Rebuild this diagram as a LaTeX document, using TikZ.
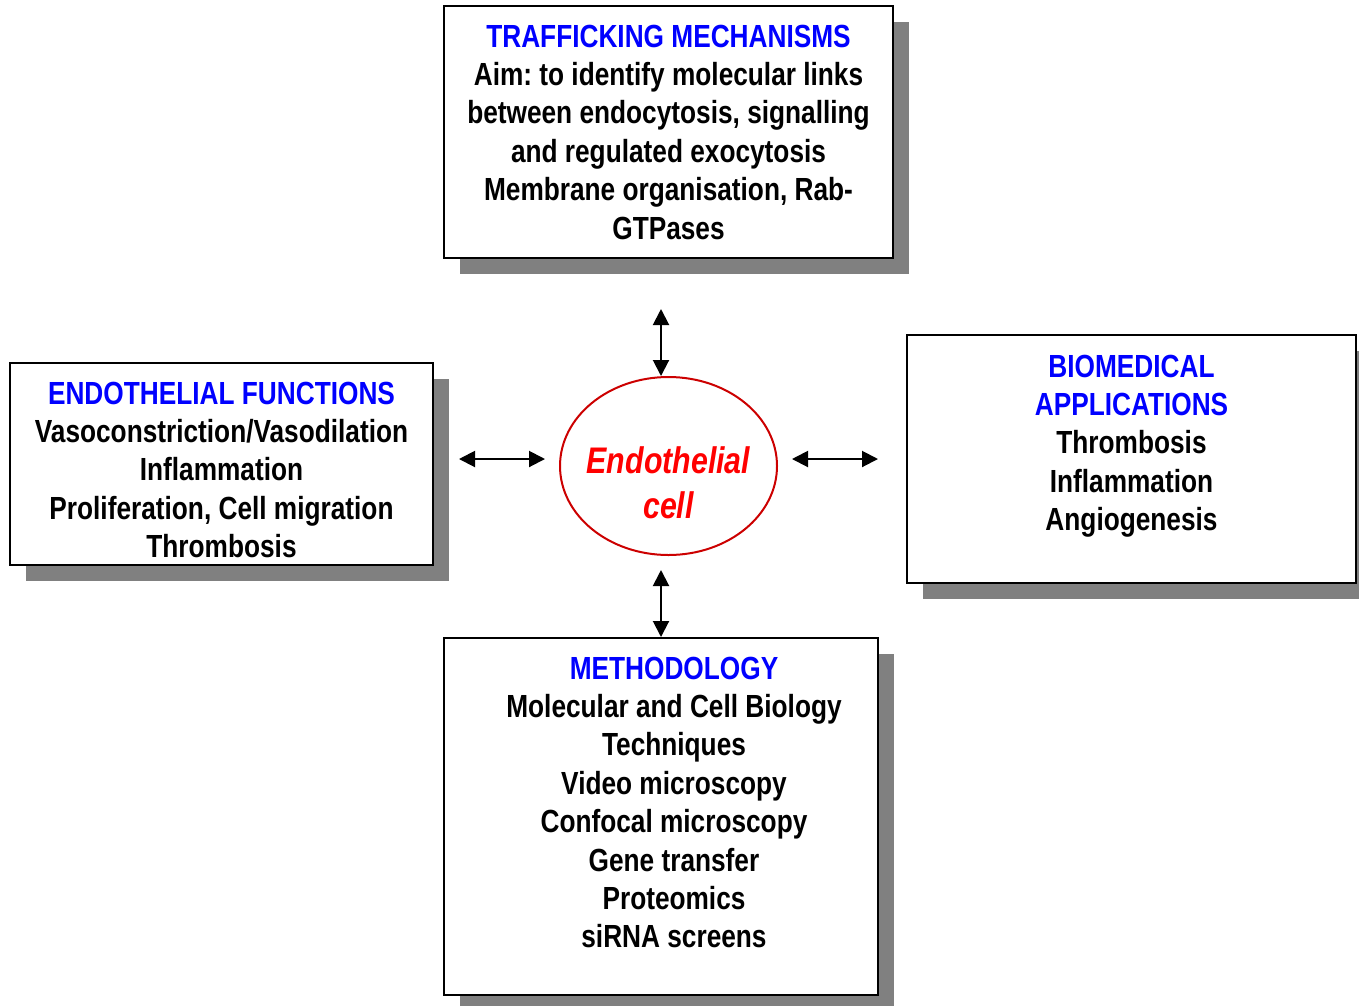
\documentclass[tikz,border=0pt]{standalone}
\usepackage{fontspec}
\setmainfont[FakeStretch=0.82]{Liberation Sans}
\usetikzlibrary{arrows.meta,shadows,positioning,shapes.geometric}
\definecolor{headblue}{RGB}{0,0,255}
\definecolor{cellred}{RGB}{255,0,0}
\definecolor{rimred}{RGB}{204,0,0}
\definecolor{shadegray}{RGB}{128,128,128}
\frenchspacing
\tikzset{
  panel/.style={draw=black, line width=2pt, fill=white, inner sep=0pt,
    drop shadow={shadow xshift=16pt, shadow yshift=-16pt, fill=shadegray, opacity=1}},
  blurb/.style={align=center, inner sep=0pt, font=\fontsize{32}{38.4}\selectfont\bfseries},
  link/.style={line width=2pt, {Triangle[length=16pt,width=16pt]}-{Triangle[length=16pt,width=16pt]}},
}
\begin{document}
\begin{tikzpicture}[x=1pt, y=-1pt]
    \useasboundingbox (0,0) rectangle (1359,1005);
    % the four panels
    \node[panel, minimum width=449pt, minimum height=252pt] (traffic) at (668.5,132) {};
    \node[panel, minimum width=423pt, minimum height=202pt] (functions) at (221.5,464) {};
    \node[panel, minimum width=449pt, minimum height=248pt] (biomed) at (1131.5,459) {};
    \node[panel, minimum width=434pt, minimum height=357pt] (methods) at (661,816.5) {};
    \node[blurb, below=19.5pt of traffic.north] (trafficText) {{\color{headblue}TRAFFICKING MECHANISMS}\\
        Aim: to identify molecular links\\ between endocytosis, signalling\\ and regulated exocytosis\\
        Membrane organisation, Rab-\\ GTPases};
    \node[blurb, below=19.5pt of functions.north] (functionsText) {{\color{headblue}ENDOTHELIAL FUNCTIONS}\\
        Vasoconstriction/Vasodilation\\ Inflammation\\ Proliferation, Cell migration\\ Thrombosis};
    \node[blurb, below=20.5pt of biomed.north] (biomedText) {{\color{headblue}BIOMEDICAL}\\
        {\color{headblue}APPLICATIONS}\\ Thrombosis\\ Inflammation\\ Angiogenesis};
    \node[blurb, below=19.5pt of methods.north, xshift=13pt] (methodsText) {{\color{headblue}METHODOLOGY}\\
        Molecular and Cell Biology\\ Techniques\\ Video microscopy\\ Confocal microscopy\\
        Gene transfer\\ Proteomics\\ siRNA screens};
    % the cell in the middle
    \node[ellipse, draw=rimred, line width=2pt, minimum width=217pt, minimum height=178pt] (cell) at (668.5,466) {};
    \node[blurb, text=cellred, font=\fontsize{37}{45}\selectfont\bfseries\itshape,
        below=70.5pt of cell.north] (cellText) {Endothelial\\ cell};
    % double arrows
    \coordinate (upA) at (661,309);
    \coordinate (upB) at (661,376);
    \coordinate (downA) at (661,570);
    \coordinate (downB) at (661,637);
    \coordinate (leftA) at (459,459);
    \coordinate (leftB) at (545,459);
    \coordinate (rightA) at (792,459);
    \coordinate (rightB) at (878,459);
    \draw[link] (upA) -- (upB);
    \draw[link] (downA) -- (downB);
    \draw[link] (leftA) -- (leftB);
    \draw[link] (rightA) -- (rightB);
\end{tikzpicture}
\end{document}
